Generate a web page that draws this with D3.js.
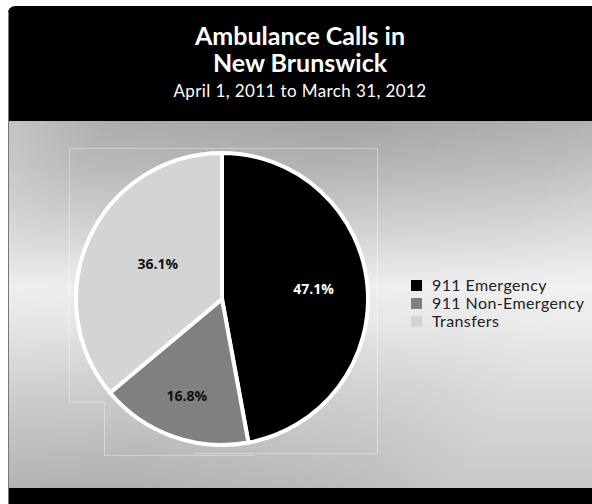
<!DOCTYPE html>
<html>
<head>
<meta charset="utf-8">
<script src="https://cdn.jsdelivr.net/npm/d3@7"></script>
<style>
  html, body { margin: 0; padding: 0; background: #fff; }
  svg { display: block; }
</style>
</head>
<body>
<svg id="chart" width="592" height="504"></svg>
<script>
// ---- data ----
const categories = ["911 Emergency", "911 Non-Emergency", "Transfers"];
const shares = [47.1, 16.8, 36.1];
const colors = ["#000000", "#808080", "#d4d4d4"];
const labelColors = ["#ffffff", "#111111", "#111111"];
const titleLines = ["Ambulance Calls in", "New Brunswick"];
const subtitle = "April 1, 2011 to March 31, 2012";

const svg = d3.select("#chart");
const W = 592, H = 504;

const defs = svg.append("defs");
const bg = defs.append("linearGradient").attr("id", "bgv")
  .attr("x1", 0).attr("y1", 0).attr("x2", 0).attr("y2", 1);
[[0, "#a4a4a4"], [0.12, "#b2b2b2"], [0.3, "#d0d0d0"], [0.45, "#ececec"],
 [0.55, "#e4e4e4"], [0.72, "#cdcdcd"], [0.88, "#bcbcbc"], [1, "#b0b0b0"]]
  .forEach(([o, c]) => bg.append("stop").attr("offset", o).attr("stop-color", c));
const bgh = defs.append("linearGradient").attr("id", "bgh")
  .attr("x1", 0).attr("y1", 0).attr("x2", 1).attr("y2", 0.4);
[[0, "#ffffff", 0.35], [0.15, "#ffffff", 0.1], [0.5, "#ffffff", 0.0], [0.85, "#ffffff", 0.15], [1, "#ffffff", 0.3]]
  .forEach(([o, c, a]) => bgh.append("stop").attr("offset", o).attr("stop-color", c).attr("stop-opacity", a));

// panel
const px = 8, py = 6;
svg.append("path")
  .attr("d", `M${px},${H} L${px},${py + 8} Q${px},${py} ${px + 8},${py} L${W},${py} L${W},${H} Z`)
  .attr("fill", "#000");
const headerBottom = 121, footerTop = 488;
svg.append("rect").attr("x", px + 1).attr("y", headerBottom).attr("width", W - px - 1)
  .attr("height", footerTop - headerBottom).attr("fill", "url(#bgv)");
svg.append("rect").attr("x", px + 1).attr("y", headerBottom).attr("width", W - px - 1)
  .attr("height", footerTop - headerBottom).attr("fill", "url(#bgh)");
svg.append("line").attr("x1", px + 0.5).attr("x2", px + 0.5).attr("y1", py + 6).attr("y2", H)
  .attr("stroke", "#777").attr("stroke-width", 1);

// title
const title = svg.append("text").attr("text-anchor", "middle")
  .attr("font-family", "Lato, 'Open Sans', sans-serif").attr("font-weight", 700)
  .attr("font-size", 25).attr("fill", "#fff");
titleLines.forEach((t, i) => title.append("tspan").attr("x", 300).attr("y", 45 + i * 27).text(t));
svg.append("text").attr("x", 300).attr("y", 97).attr("text-anchor", "middle")
  .attr("font-family", "Lato, 'Open Sans', sans-serif").attr("font-size", 17)
  .attr("letter-spacing", 0.4)
  .attr("fill", "#fff").text(subtitle);

// faint plot-area frame lines
const frame = svg.append("g").attr("fill", "none").attr("stroke", "#ffffff").attr("stroke-opacity", 0.35).attr("stroke-width", 1);
frame.append("path").attr("d", "M69.5,402 L69.5,148.5 L377.5,148.5 L377.5,453.5 L193,453.5");
frame.append("path").attr("d", "M69.5,402.5 L104.5,402.5 L104.5,455.5 L255,455.5");

// pie
const cx = 222, cy = 299, r = 146;
const pie = d3.pie().sort(null).value(d => d);
const arcs = pie(shares);
const arc = d3.arc().innerRadius(0).outerRadius(r);
const g = svg.append("g").attr("transform", `translate(${cx},${cy})`);
g.selectAll("path").data(arcs).join("path")
  .attr("d", arc)
  .attr("fill", (d, i) => colors[i])
  .attr("stroke", "#fff").attr("stroke-width", 4).attr("stroke-linejoin", "miter");
const labelFactor = [0.63, 0.71, 0.5];
const labelShift = [[0, -2], [0, 0], [2, -4]];
g.selectAll("text").data(arcs).join("text")
  .attr("transform", (d, i) => {
    const a = (d.startAngle + d.endAngle) / 2;
    const lr = r * labelFactor[i];
    return `translate(${Math.sin(a) * lr + labelShift[i][0]},${-Math.cos(a) * lr + labelShift[i][1]})`;
  })
  .attr("text-anchor", "middle").attr("dy", "0.35em")
  .attr("font-family", "'Open Sans', 'DejaVu Sans', sans-serif").attr("font-weight", 700)
  .attr("font-size", 14)
  .attr("fill", (d, i) => labelColors[i])
  .text(d => d.data.toFixed(1) + "%");

// legend
const leg = svg.append("g").attr("transform", "translate(411,280)");
const rows = leg.selectAll("g").data(categories).join("g")
  .attr("transform", (d, i) => `translate(0,${i * 18})`);
rows.append("rect").attr("width", 11).attr("height", 11).attr("fill", (d, i) => colors[i]);
rows.append("text").attr("x", 21).attr("y", 10.5)
  .attr("font-family", "Lato, 'Open Sans', sans-serif").attr("font-size", 16)
  .attr("letter-spacing", 0.4)
  .attr("fill", "#222").text(d => d);
</script>
</body>
</html>
